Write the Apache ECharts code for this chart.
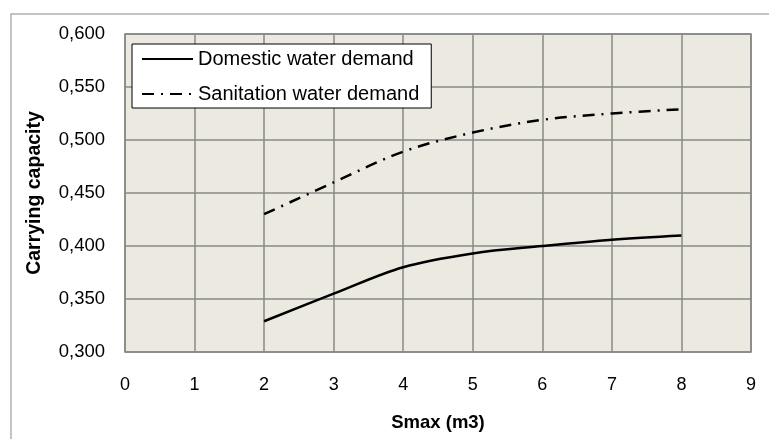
<!DOCTYPE html>
<html>
<head>
<meta charset="utf-8">
<script src="https://cdn.jsdelivr.net/npm/echarts@6/dist/echarts.min.js"></script>
<style>
  html, body { margin: 0; padding: 0; background: #fff; }
  #chart { width: 769px; height: 439px; }
</style>
</head>
<body>
<div id="chart"></div>
<script>
var smax = [2, 3, 4, 5, 6, 7, 8];
var domestic = [0.329, 0.355, 0.380, 0.393, 0.400, 0.406, 0.410];
var sanitation = [0.430, 0.460, 0.489, 0.507, 0.519, 0.525, 0.529];
var seriesNames = ['Domestic water demand', 'Sanitation water demand'];

function pairs(xs, ys) {
    var out = [];
    for (var i = 0; i < xs.length; i++) {
        out.push([xs[i], ys[i]]);
    }
    return out;
}

var myChart = echarts.init(document.getElementById('chart'));
var option = {
    animation: false,
    textStyle: { fontFamily: 'Liberation Sans, Arial, sans-serif' },
    graphic: [{
        type: 'rect',
        shape: { x: 11, y: 14, width: 800, height: 500 },
        style: { fill: 'none', stroke: '#b0b0b0', lineWidth: 1.5 },
        silent: true
    }],
    grid: {
        left: 125, right: 18, top: 34, bottom: 87,
        show: true,
        backgroundColor: '#ECE9E0',
        borderColor: '#808080',
        borderWidth: 1.5
    },
    legend: {
        orient: 'vertical',
        left: 132, top: 44,
        padding: [5, 12, 4, 9],
        itemGap: 15,
        itemWidth: 51,
        itemHeight: 14,
        backgroundColor: '#fff',
        borderColor: '#000',
        borderWidth: 1,
        itemStyle: { color: 'transparent', borderColor: 'transparent', opacity: 0 },
        textStyle: { fontSize: 20, color: '#000' },
        data: seriesNames
    },
    xAxis: {
        type: 'value',
        min: 0, max: 9, interval: 1,
        name: 'Smax (m3)',
        nameLocation: 'middle',
        nameGap: 61,
        nameTextStyle: { fontSize: 18.5, fontWeight: 'bold', color: '#000' },
        axisLine: { show: false },
        axisTick: { show: false },
        axisLabel: { fontSize: 18, color: '#000', margin: 24 },
        splitLine: { lineStyle: { color: '#888', width: 1.5 } }
    },
    yAxis: {
        type: 'value',
        min: 0.3, max: 0.6, interval: 0.05,
        name: 'Carrying capacity',
        nameLocation: 'middle',
        nameGap: 80,
        nameTextStyle: { fontSize: 19.5, fontWeight: 'bold', color: '#000' },
        axisLine: { show: false },
        axisTick: { show: false },
        axisLabel: {
            fontSize: 18.5, color: '#000', margin: 20,
            formatter: function (v) { return v.toFixed(3).replace('.', ','); }
        },
        splitLine: { lineStyle: { color: '#888', width: 1.5 } }
    },
    series: [
        {
            name: seriesNames[0],
            type: 'line',
            smooth: 0.35,
            symbol: 'none',
            lineStyle: { color: '#000', width: 2.5 },
            itemStyle: { color: '#000' },
            data: pairs(smax, domestic)
        },
        {
            name: seriesNames[1],
            type: 'line',
            smooth: 0.35,
            symbol: 'none',
            lineStyle: { color: '#000', width: 2.5, type: [12, 7, 2, 7] },
            itemStyle: { color: '#000' },
            data: pairs(smax, sanitation)
        }
    ]
};
myChart.setOption(option);
window.onresize = myChart.resize;
</script>
</body>
</html>
